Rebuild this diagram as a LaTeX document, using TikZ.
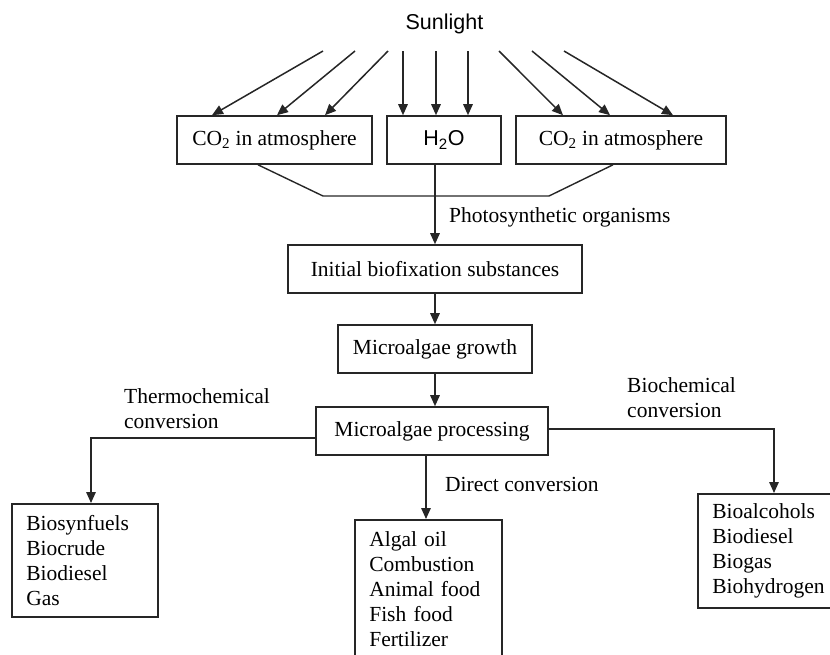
\documentclass[tikz,border=0pt]{standalone}
\usepackage{fontspec}
\setmainfont{Liberation Serif}
\newfontfamily\sunfont{Liberation Sans}
\usetikzlibrary{arrows.meta}
\newcommand{\labfont}{\fontsize{21.5pt}{25pt}\selectfont}

\begin{document}
\begin{tikzpicture}[x=1pt,y=-1pt,
    box/.style={draw=black!85,line width=1.6pt,minimum height=48pt,inner sep=0pt,font=\labfont},
    listbox/.style={draw=black!85,line width=1.6pt,anchor=north west,align=left,inner xsep=14.5pt,inner ysep=0pt,font=\labfont},
    lbl/.style={anchor=west,align=left,inner sep=0pt,font=\labfont},
    arr/.style={draw=black!85,line width=1.5pt,-{Triangle[length=11pt,width=9.5pt]}},
    link/.style={draw=black!85,line width=1.4pt}]
        \useasboundingbox (0,0) rectangle (830,654);
        \clip (0,0) rectangle (830,654);

        \node[inner sep=0pt,font=\labfont\sunfont] (sun) at (444.5,24) {Sunlight};

        \node[box,minimum width=195pt] (co2l) at (274.5,140) {CO\textsubscript{2} in atmosphere};
        \node[box,minimum width=114pt,font=\labfont\sunfont] (water) at (444,140) {H\textsubscript{2}O};
        \node[box,minimum width=210pt] (co2r) at (621,140) {CO\textsubscript{2} in atmosphere};

        \node[box,minimum width=294pt] (init) at (435,269) {Initial biofixation substances};
        \node[box,minimum width=194pt] (grow) at (435,349) {Microalgae growth};
        \node[box,minimum width=232pt] (proc) at (432,431) {Microalgae processing};

        \node[listbox,text width=117pt,minimum height=113pt] (thermo) at (11,503)
            {Biosynfuels\\Biocrude\\Biodiesel\\Gas};
        \node[listbox,text width=118pt,minimum height=138pt] (direct) at (354,519)
            {Algal oil\\Combustion\\Animal food\\Fish food\\Fertilizer};
        \node[listbox,text width=114pt,minimum height=114pt] (bio) at (697,493)
            {Bioalcohols\\Biodiesel\\Biogas\\Biohydrogen};

        % labels
        \node[lbl] (photo) at (449,217) {Photosynthetic organisms};
        \node[lbl] (thermolbl) at (124,408.5) {Thermochemical\\conversion};
        \node[lbl] (biolbl) at (627,397.5) {Biochemical\\conversion};
        \node[lbl] (directlbl) at (445,484) {Direct conversion};

        % sunlight rays
        \foreach \i/\x in {1/323,2/355,3/388,4/403,5/436,6/468,7/499,8/532,9/564}
            \coordinate (s\i) at (\x,51);
        \foreach \i/\t/\d in {1/co2l/-62.5,2/co2l/2.5,3/co2l/50.5,4/water/-41,5/water/-8,6/water/24,7/co2r/-58,8/co2r/-11,9/co2r/52}
            \draw[arr] (s\i) -- ([xshift=\d pt]\t.north);

        \coordinate (jl) at (323,196);
        \coordinate (jr) at (549,196);
        \draw[link] ([xshift=-16.5pt]co2l.south) -- (jl) -- (jr) -- ([xshift=-8pt]co2r.south);
        \draw[arr] (water.south -| init.north) -- (init.north);
        \draw[arr] (init) -- (grow);
        \draw[arr] (grow.south) -- (grow.south |- proc.north);

        \draw[arr] ([yshift=-7pt]proc.west) -| ([xshift=80pt]thermo.north west);
        \draw[arr] ([xshift=-6pt]proc.south) -- ([xshift=72pt]direct.north west);
        \draw[arr] ([yshift=2pt]proc.east) -| ([xshift=77pt]bio.north west);
    \end{tikzpicture}
\end{document}
